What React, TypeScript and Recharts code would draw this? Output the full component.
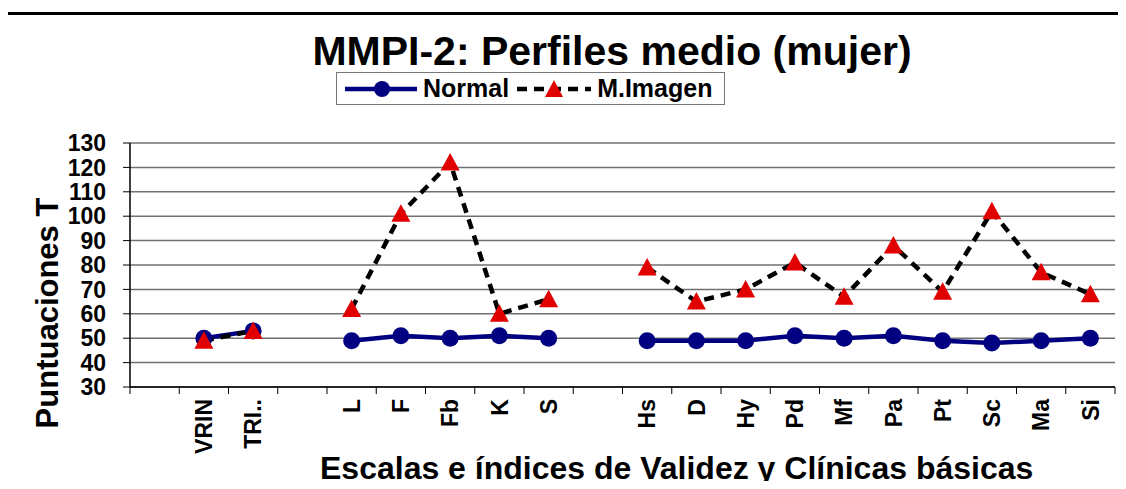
import { LineChart, Line, XAxis, YAxis, CartesianGrid } from 'recharts'

const scales = ['', 'VRIN', 'TRI..', '', 'L', 'F', 'Fb', 'K', 'S', '', 'Hs', 'D', 'Hy', 'Pd', 'Mf', 'Pa', 'Pt', 'Sc', 'Ma', 'Si']
const normal = [null, 50, 53, null, 49, 51, 50, 51, 50, null, 49, 49, 49, 51, 50, 51, 49, 48, 49, 50]
const imagen = [null, 49, 53, null, 62, 101, 122, 60, 66, null, 79, 65, 70, 81, 67, 88, 69, 102, 77, 68]
const yTicks = [30, 40, 50, 60, 70, 80, 90, 100, 110, 120, 130]

const data = scales.map((s, i) => ({ scale: s, normal: normal[i], imagen: imagen[i] }))

const W = 1126
const H = 489
const margin = { top: 143, right: 11, bottom: 0, left: 0 }
const Y_AXIS_W = 130
const band = (W - margin.right - margin.left - Y_AXIS_W) / scales.length

const font = '"Liberation Sans", Arial, sans-serif'
const NAVY = '#000080'
const RED = '#e00000'

// tick marks sit between categories, like Excel does
function ScaleTick(props: any) {
  const { x, y, payload, index } = props
  const axisY = y - 7
  const ty = y + 5
  return (
    <g>
      <line x1={x - band / 2} x2={x - band / 2} y1={axisY} y2={axisY + 7} stroke="#000" />
      {index === scales.length - 1 && (
        <line x1={x + band / 2} x2={x + band / 2} y1={axisY} y2={axisY + 7} stroke="#000" />
      )}
      <text
        x={x}
        y={ty}
        dy="0.36em"
        textAnchor="end"
        transform={`rotate(-90, ${x}, ${ty})`}
        fontFamily={font}
        fontWeight="bold"
        fontSize={23}
        fill="#000"
      >
        {payload.value}
      </text>
    </g>
  )
}

function Triangle(props: any) {
  const { cx, cy, index } = props
  if (cx == null || cy == null) return <g key={index} />
  return (
    <polygon
      key={index}
      points={`${cx},${cy - 9.5} ${cx + 9.5},${cy + 8} ${cx - 9.5},${cy + 8}`}
      fill={RED}
    />
  )
}

function LegendBox() {
  const txt = { fontFamily: font, fontWeight: 'bold' as const, fontSize: 25, color: '#000', lineHeight: 1 }
  return (
    <div
      style={{
        position: 'absolute',
        left: 336,
        top: 72,
        width: 387,
        height: 31,
        border: '1px solid #777',
        display: 'flex',
        alignItems: 'center',
        background: '#fff',
      }}
    >
      <svg width={86} height={31}>
        <line x1={8} x2={80} y1={16} y2={16} stroke={NAVY} strokeWidth={4.5} />
        <circle cx={45} cy={16} r={8} fill={NAVY} />
      </svg>
      <span style={txt}>Normal</span>
      <svg width={88} height={31}>
        <line x1={8} x2={82} y1={16} y2={16} stroke="#000" strokeWidth={4.5} strokeDasharray="10 7" />
        <polygon points="45,7 54,24 36,24" fill={RED} />
      </svg>
      <span style={txt}>M.Imagen</span>
    </div>
  )
}

export default function App() {
  return (
    <div style={{ position: 'relative', width: W, height: H, margin: -8, overflow: 'hidden', background: '#fff' }}>
      <div
        style={{
          position: 'absolute',
          left: 5,
          top: 12,
          width: W,
          height: H,
          borderTop: '3px solid #000',
          borderLeft: '3px solid #000',
        }}
      />
      <LineChart width={W} height={H} data={data} margin={margin}>
        <CartesianGrid vertical={false} stroke="#707070" strokeWidth={1.5} />
        <XAxis
          dataKey="scale"
          interval={0}
          padding={{ left: band / 2, right: band / 2 }}
          tickLine={false}
          tickSize={7}
          tickMargin={0}
          height={102}
          axisLine={{ stroke: '#000', strokeWidth: 1.5 }}
          tick={<ScaleTick />}
        />
        <YAxis
          width={Y_AXIS_W}
          domain={[30, 130]}
          ticks={yTicks}
          interval={0}
          tickSize={7}
          tickMargin={17}
          axisLine={{ stroke: '#000', strokeWidth: 1.5 }}
          tickLine={{ stroke: '#000' }}
          tick={{ fill: '#000', fontFamily: font, fontWeight: 'bold', fontSize: 23 }}
        />
        <Line
          dataKey="normal"
          name="Normal"
          stroke={NAVY}
          strokeWidth={4.5}
          dot={{ r: 8.5, fill: NAVY, stroke: NAVY, strokeWidth: 0 }}
          isAnimationActive={false}
        />
        <Line
          dataKey="imagen"
          name="M.Imagen"
          stroke="#000"
          strokeWidth={4.5}
          strokeDasharray="10 7"
          dot={<Triangle />}
          isAnimationActive={false}
        />
      </LineChart>
      <LegendBox />
      <div
        style={{
          position: 'absolute',
          left: 612,
          top: 31,
          transform: 'translateX(-50%)',
          whiteSpace: 'nowrap',
          fontFamily: font,
          fontWeight: 'bold',
          fontSize: 41,
          lineHeight: 1,
        }}
      >
        MMPI-2: Perfiles medio (mujer)
      </div>
      <div
        style={{
          position: 'absolute',
          left: 47,
          top: 313,
          transform: 'translate(-50%, -50%) rotate(-90deg)',
          whiteSpace: 'nowrap',
          fontFamily: font,
          fontWeight: 'bold',
          fontSize: 31,
          lineHeight: 1,
        }}
      >
        Puntuaciones T
      </div>
      <div
        style={{
          position: 'absolute',
          left: 320,
          top: 452,
          whiteSpace: 'nowrap',
          fontFamily: font,
          fontWeight: 'bold',
          fontSize: 32,
          lineHeight: 1,
        }}
      >
        Escalas e índices de Validez y Clínicas básicas
      </div>
    </div>
  )
}
